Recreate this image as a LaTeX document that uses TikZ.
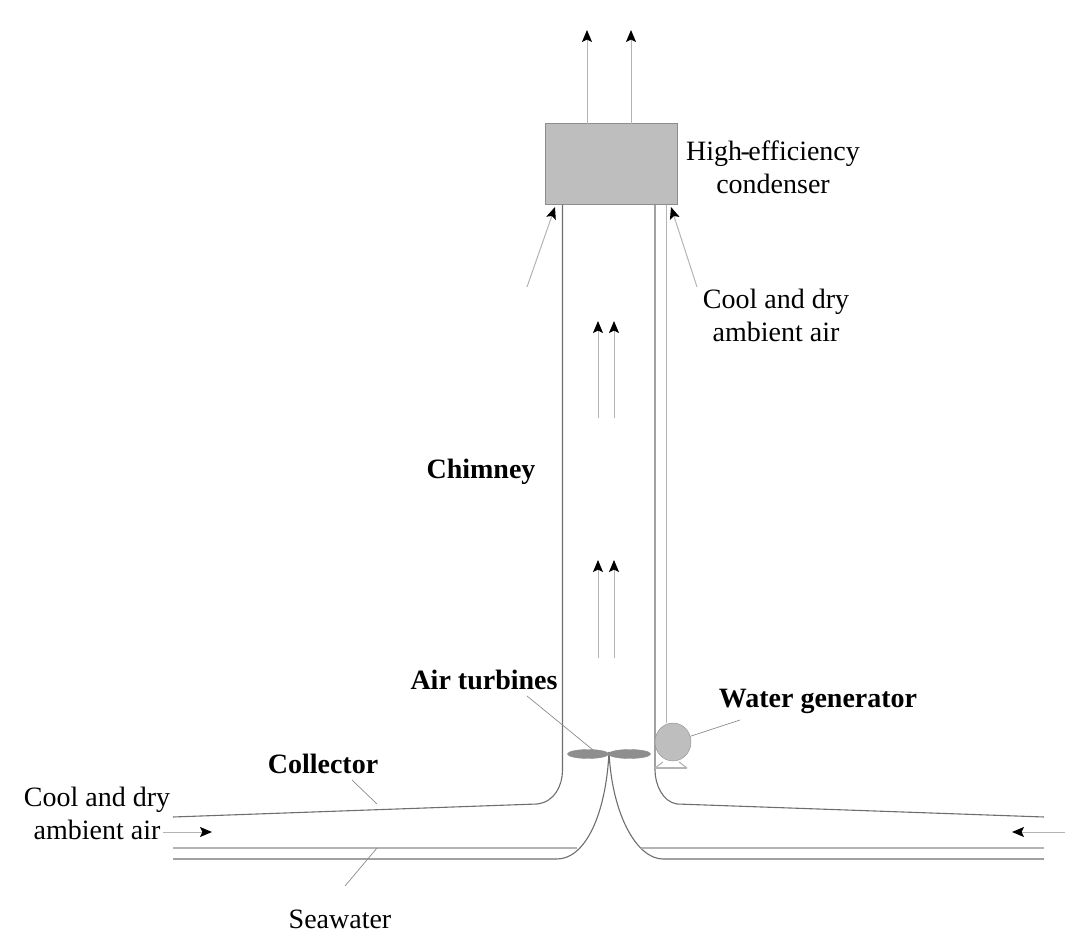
\documentclass[tikz,border=0pt]{standalone}
\usepackage{fontspec}
\setmainfont{Liberation Serif}
\usetikzlibrary{arrows.meta}
\usetikzlibrary{shapes.geometric}
\definecolor{wallgray}{HTML}{6E6E6E}
\definecolor{thingray}{HTML}{B4B4B4}
\definecolor{leadgray}{HTML}{8C8C8C}
\definecolor{unitgray}{HTML}{BEBEBE}
\definecolor{bladegray}{HTML}{8E8E8E}
\tikzset{
  lbl/.style={font=\fontsize{28}{33}\selectfont,align=center,inner sep=0pt},
  boldlbl/.style={lbl,font=\fontsize{28}{33}\selectfont\bfseries},
  wall/.style={draw=wallgray,line width=1.1pt},
  thinwall/.style={draw=thingray,line width=1.1pt},
  leader/.style={draw=leadgray,line width=0.7pt},
  flow/.style={draw=thingray,line width=1pt,-{Stealth[length=12pt,width=10pt,inset=2.5pt,black]}}
}
\begin{document}
\begin{tikzpicture}[x=1pt,y=-1pt]
\useasboundingbox (0,0) rectangle (1080,949);
\node[draw=leadgray,fill=unitgray,line width=1pt,minimum width=132pt,minimum height=81pt,inner sep=0pt] (condenser) at (611,164.5) {};
\coordinate (TopA) at (587,30);
\coordinate (TopB) at (631,30);
\draw[flow] (587,124) -- (TopA);
\draw[flow] (631,124) -- (TopB);
\coordinate (LeftEnd) at (173,817);
\coordinate (RightEnd) at (1044,817);
\coordinate (Tip) at (609,752);
\draw[wall] (562.5,205) -- (562.5,770) .. controls (562.5,785) and (555,802) .. (537,804) -- (LeftEnd);
\draw[wall] (655,205) -- (655,770) .. controls (655,785) and (663,802) .. (677,804) -- (RightEnd);
\draw[wall] (173,859) -- (557,859) .. controls (585,859) and (606,815) .. (Tip);
\draw[wall] (1044,859) -- (663,859) .. controls (637,859) and (612,815) .. (Tip);
\draw[thinwall] (173,848) -- (577,848);
\draw[thinwall] (641,848) -- (1044,848);
\node[draw=leadgray,fill=bladegray,ellipse,minimum width=41pt,minimum height=9pt,inner sep=0pt] (bladeL) at (588,754) {};
\node[draw=leadgray,fill=bladegray,ellipse,minimum width=42pt,minimum height=9pt,inner sep=0pt] (bladeR) at (629.5,754) {};
\node[draw=leadgray,fill=unitgray,ellipse,minimum width=36pt,minimum height=38pt,inner sep=0pt] (generator) at (673,742) {};
\coordinate (GenTop) at (666.5,723);
\draw[thinwall] (666.5,205) -- (GenTop);
\draw[thinwall] (655,768) -- (687,768);
\draw[thinwall] (655,768) -- (663,762);
\draw[thinwall] (687,768) -- (679,762);
\draw[flow] (598,418) -- (598,321);
\draw[flow] (614,418) -- (614,321);
\draw[flow] (598,658) -- (598,560);
\draw[flow] (614,658) -- (614,560);
\coordinate (InL) at (527,287);
\coordinate (InR) at (697,287);
\draw[flow] (InL) -- (555,207);
\draw[flow] (InR) -- (671,207);
\coordinate (BotL) at (163,832);
\coordinate (BotR) at (1065,832);
\draw[flow] (BotL) -- (212,832);
\draw[flow] (BotR) -- (1012,832);
\node[lbl] (condlbl) at (773,167) {High\kern-1.5pt-\kern-1.5pt efficiency\\condenser};
\node[lbl] (airtop) at (776,315) {Cool and dry\\ambient air};
\node[boldlbl] (chimneylbl) at (481,472) {Chimney};
\node[boldlbl] (turbinelbl) at (484,680) {Air turbines};
\node[boldlbl] (genlbl) at (818,701) {Water generator};
\node[boldlbl] (collectlbl) at (323,764) {Collector};
\node[lbl] (airbot) at (97,813) {Cool and dry\\ambient air};
\node[lbl] (sealbl) at (340,919) {Seawater};
\coordinate (TurbA) at (527,696);
\coordinate (TurbB) at (593,750);
\coordinate (GenA) at (740,720);
\coordinate (ColA) at (352,780);
\coordinate (ColB) at (377,804);
\coordinate (SeaA) at (345,886);
\coordinate (SeaB) at (377,848);
\draw[leader] (TurbA) -- (TurbB);
\draw[leader] (GenA) -- (generator);
\draw[leader] (ColA) -- (ColB);
\draw[leader] (SeaA) -- (SeaB);
\end{tikzpicture}
\end{document}
